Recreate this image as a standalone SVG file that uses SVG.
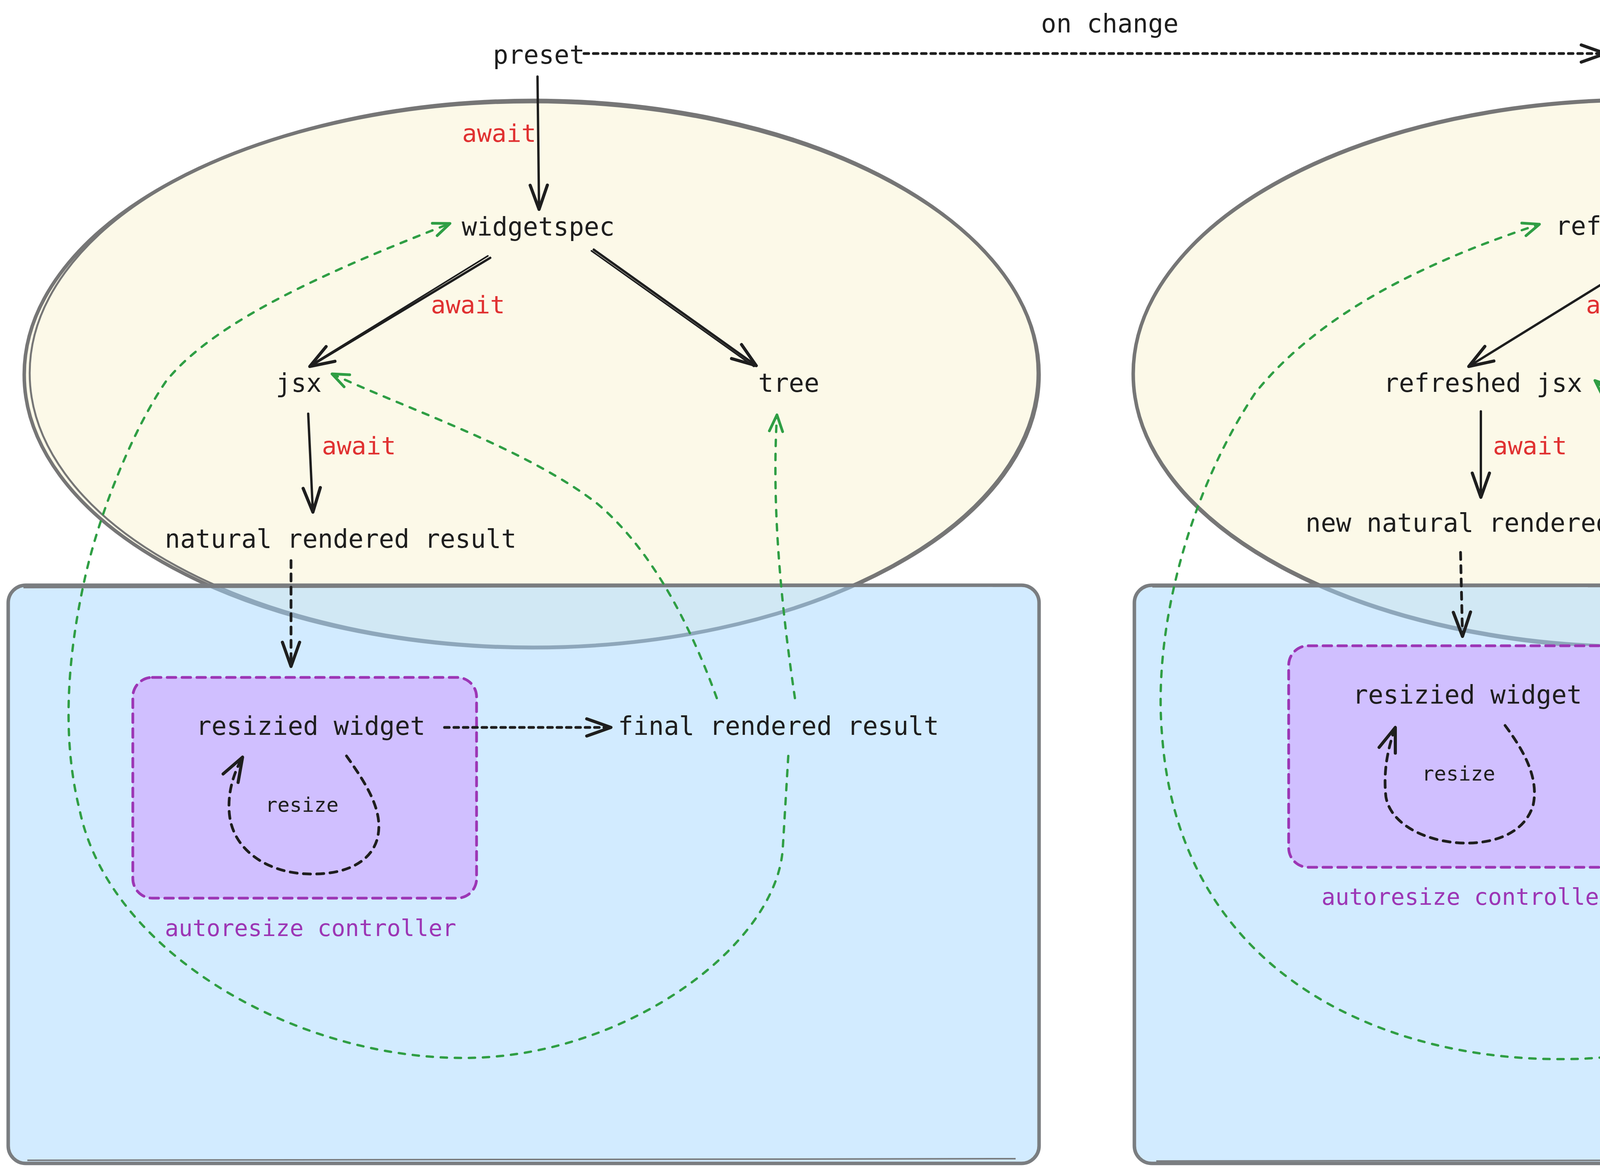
<svg xmlns="http://www.w3.org/2000/svg" width="5560" height="3000" viewBox="0 0 5560 3000">
<defs>
<style>
.t{font-family:"DejaVu Sans Mono","Liberation Mono",monospace;font-size:65px;fill:#1e1e1e}
.r{font-family:"DejaVu Sans Mono","Liberation Mono",monospace;font-size:63px;fill:#e03131}
.s{font-family:"DejaVu Sans Mono","Liberation Mono",monospace;font-size:52px;fill:#1e1e1e}
.p{font-family:"DejaVu Sans Mono","Liberation Mono",monospace;font-size:59px;fill:#9c36b5}
.ell{fill:#fcf9e8;stroke:#767676;stroke-width:9}
.ell2{fill:none;stroke:#767676;stroke-width:5}
.box{fill:#a5d8ff;fill-opacity:0.5;stroke:#7a7d80;stroke-width:9}
.box2{fill:none;stroke:#7a7d80;stroke-width:4}
.ctl{fill:#d0bfff;stroke:#9c36b5;stroke-width:7;stroke-dasharray:22 16;stroke-linecap:round}
.a{fill:none;stroke:#1e1e1e;stroke-width:6;stroke-linecap:round;marker-end:url(#ah)}
.a2{fill:none;stroke:#1e1e1e;stroke-width:4;stroke-linecap:round}
.ad{fill:none;stroke:#1e1e1e;stroke-width:7;stroke-linecap:round;stroke-dasharray:18 16;marker-end:url(#ah)}
.ao{fill:none;stroke:#1e1e1e;stroke-width:7;stroke-linecap:round;stroke-dasharray:12 12;marker-end:url(#ah)}
.g{fill:none;stroke:#2f9e44;stroke-width:6;stroke-linecap:round;stroke-dasharray:16 20;marker-end:url(#gh)}
</style>
<marker id="ah" markerUnits="userSpaceOnUse" markerWidth="90" markerHeight="60" viewBox="-70 -30 90 60" refX="0" refY="0" orient="auto" overflow="visible">
<path d="M-62,-22 L0,0 L-62,22" fill="none" stroke="#1e1e1e" stroke-width="8" stroke-linecap="round" stroke-linejoin="round" stroke-dasharray="none"/>
</marker>
<marker id="gh" markerUnits="userSpaceOnUse" markerWidth="80" markerHeight="60" viewBox="-60 -30 80 60" refX="0" refY="0" orient="auto" overflow="visible">
<path d="M-42,-17 L0,0 L-42,17" fill="none" stroke="#2f9e44" stroke-width="7" stroke-linecap="round" stroke-linejoin="round" stroke-dasharray="none"/>
</marker>
</defs>
<rect width="5560" height="3000" fill="#ffffff"/>

<g id="scope-left">
<ellipse class="ell" cx="1361" cy="959" rx="1299" ry="699"/>
<ellipse class="ell2" cx="1366" cy="955" rx="1290" ry="700"/>
</g>
<g id="scope-right">
<ellipse class="ell" cx="4201" cy="957" rx="1300" ry="701"/>
<ellipse class="ell2" cx="4196" cy="953" rx="1294" ry="700"/>
</g>
<g id="render-left">
<rect class="box" x="21" y="1498" width="2639" height="1480" rx="45"/>
<path class="box2" d="M60,1504 L2620,1500 M70,2970 L2600,2966"/>
</g>
<g id="render-right">
<rect class="box" x="2904" y="1498" width="2633" height="1480" rx="45"/>
<path class="box2" d="M2950,1502 L5500,1500 M2960,2972 L5480,2968"/>
</g>
<g id="controller-left">
<rect class="ctl" x="340" y="1734" width="880" height="565" rx="50"/>
<text class="p" x="422" y="2396">autoresize controller</text>
</g>
<g id="controller-right">
<rect class="ctl" x="3299" y="1653" width="882" height="567" rx="50"/>
<text class="p" x="3383" y="2316">autoresize controller</text>
</g>

<g id="connectors">
<path class="ao" d="M1495,137 L4110,137"/>
<path class="a" d="M1376,196 L1380,536"/>
<path class="a" d="M1255,660 L793,938"/>
<path class="a2" d="M1249,655 L798,933"/>
<path class="a" d="M1520,639 L1936,936"/>
<path class="a2" d="M1514,642 L1930,938"/>
<path class="a" d="M789,1059 L801,1311"/>
<path class="ad" d="M745,1435 L745,1706"/>
<path class="ao" d="M1138,1862 L1564,1862"/>
<path class="ad" d="M887,1935 C940,2010 985,2080 965,2150 C945,2215 870,2240 789,2237 C690,2235 600,2180 588,2090 C580,2030 600,1975 621,1938"/>

<path class="a" d="M4335,196 L4340,536"/>
<path class="a" d="M4216,656 L3760,938"/>
<path class="a" d="M4532,641 L4957,936"/>
<path class="a" d="M3791,1053 L3791,1273"/>
<path class="ad" d="M3739,1414 L3744,1629"/>
<path class="ao" d="M4101,1784 L4509,1784"/>
<path class="ad" d="M3853,1857 C3900,1920 3940,1990 3925,2060 C3905,2130 3830,2160 3746,2158 C3650,2155 3560,2110 3548,2040 C3540,1970 3555,1910 3572,1862"/>

<path class="g" d="M2018,1935 L2004,2170 C1990,2420 1600,2708 1188,2708 C760,2710 280,2440 204,2074 C160,1900 170,1700 213,1500 C250,1320 340,1100 425,976 C550,820 850,690 1152,572"/>
<path class="g" d="M1835,1787 C1760,1580 1660,1400 1530,1290 C1350,1150 1050,1050 850,957"/>
<path class="g" d="M2035,1787 C2000,1550 1975,1300 1989,1062"/>

<path class="g" d="M4815,1854 L4801,2170 C4780,2450 4450,2711 4003,2711 C3550,2715 3020,2500 2975,1883 C2950,1600 3050,1250 3214,1005 C3380,800 3650,670 3941,574"/>
<path class="g" d="M4789,1706 C4720,1530 4600,1380 4450,1255 C4300,1130 4180,1060 4083,974"/>
<path class="g" d="M4991,1709 C4950,1500 4940,1250 4964,1062"/>
</g>

<g id="label-onchange"><text class="t" x="2665" y="83">on change</text></g>
<g id="preset"><text class="t" x="1262" y="163">preset</text></g>
<g id="new-preset"><text class="t" x="4142" y="165">new preset</text></g>

<g id="awaits">
<text class="r" x="1183" y="363">await</text>
<text class="r" x="1103" y="802">await</text>
<text class="r" x="824" y="1163">await</text>
<text class="r" x="4142" y="363">await</text>
<text class="r" x="4060" y="802">await</text>
<text class="r" x="3822" y="1163">await</text>
</g>

<g id="widgetspec"><text class="t" x="1182" y="603">widgetspec</text></g>
<g id="jsx"><text class="t" x="706" y="1003">jsx</text></g>
<g id="tree"><text class="t" x="1941" y="1003">tree</text></g>
<g id="natural-result"><text class="t" x="422" y="1402">natural rendered result</text></g>
<g id="resized-widget-left"><text class="t" x="502" y="1881">resizied widget</text></g>
<g id="resize-left"><text class="s" x="679" y="2078">resize</text></g>
<g id="final-left"><text class="t" x="1582" y="1881">final rendered result</text></g>

<g id="refresh-widgetspec"><text class="t" x="3982" y="601">refresh widgetspec</text></g>
<g id="refreshed-jsx"><text class="t" x="3542" y="1003">refreshed jsx</text></g>
<g id="refreshed-tree"><text class="t" x="4783" y="1003">refreshed tree</text></g>
<g id="new-natural-result"><text class="t" x="3342" y="1361">new natural rendered result</text></g>
<g id="resized-widget-right"><text class="t" x="3463" y="1801">resizied widget</text></g>
<g id="resize-right"><text class="s" x="3640" y="1998">resize</text></g>
<g id="final-right"><text class="t" x="4541" y="1801">final rendered result</text></g>
</svg>
